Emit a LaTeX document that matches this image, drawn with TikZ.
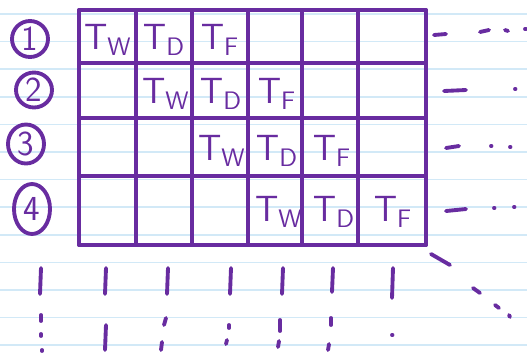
\documentclass[tikz,border=0pt]{standalone}
\usepackage{tikz}
\usetikzlibrary{shapes.geometric,positioning}
\definecolor{pen}{RGB}{104,44,160}
\definecolor{ruling}{RGB}{210,233,247}

\begin{document}
\begin{tikzpicture}[x=0.02cm, y=-0.02cm, line cap=round,
  ink/.style={draw=pen, line width=2.1pt},
  stroke/.style={draw=pen, line width=2.2pt},
  rowno/.style={ellipse, draw=pen, line width=2.2pt, minimum width=0.72cm, minimum height=0.76cm, inner sep=0pt, text=pen, font=\sffamily\fontsize{20}{20}\selectfont},
  stage/.style={text=pen, inner sep=0pt, font=\fontsize{21}{21}\selectfont}]
\path[use as bounding box] (0,0) rectangle (527,356);
% lined paper
\foreach \k in {0,...,12}
  \draw[ruling, line width=0.9pt] (0,{14+27.6*\k}) -- (527,{14+27.6*\k});
% the table
\foreach \x in {79,136,192,248,302,358,426}
  \draw[ink] (\x,10) -- (\x,245);
\foreach \y in {10,63,118,176,245}
  \draw[ink] (79,\y) -- (426,\y);
% instructions and their stages
\foreach \r/\cx/\cy/\h in {1/30/39/0.72cm, 2/34/90/0.7cm, 3/26/144/0.78cm, 4/32/209/1cm}
  \node[rowno, minimum height=\h] (n\r) at (\cx,\cy) {\r};
\foreach \r/\cy/\xa/\xb/\xc in {1/40/108/164/220, 2/94/166/221/277, 3/151/222/277/332, 4/212/279/334/393} {
  \node[stage] (w\r) at (\xa,\cy) {$\mathsf{T}_{\mathsf{W}}$};
  \node[stage] (d\r) at (\xb,\cy) {$\mathsf{T}_{\mathsf{D}}$};
  \node[stage] (f\r) at (\xc,\cy) {$\mathsf{T}_{\mathsf{F}}$};
}
% continues to the right
\draw[stroke] (434,35) -- (446,34);
\draw[stroke] (480,32) -- (489,30);
\draw[stroke] (505,30) -- (508,31);
\draw[stroke] (525,29) -- (526,29);
\draw[stroke] (444,91) -- (466,90);
\draw[stroke] (515,89) -- (515.5,89);
\draw[stroke] (446,148) -- (459,146);
\draw[stroke] (491,146) -- (491.5,146);
\draw[stroke] (510,147) -- (510.5,147);
\draw[stroke] (446,211) -- (466,209);
\draw[stroke] (494,208) -- (494.5,208);
\draw[stroke] (514,207) -- (514.5,207);
% continues downwards
\foreach \x/\t in {41/300, 106/300, 168/300, 231/300, 283/300, 333/298, 393/304}
  \draw[stroke] (\x,268) -- ({\x-1},\t-6);
\draw[stroke] (41,315) -- (41,321);
\draw[stroke] (41,334) -- (41,336);
\draw[stroke] (42,350) -- (42,351);
\draw[stroke] (106,325) -- (105,350);
\draw[stroke] (166,318) -- (164,325);
\draw[stroke] (162,342) -- (161,350);
\draw[stroke] (229,325) -- (229,328);
\draw[stroke] (227,340) -- (226,344);
\draw[stroke] (280,320) -- (280,331);
\draw[stroke] (279,341) -- (278,347);
\draw[stroke] (331,318) -- (331,325);
\draw[stroke] (329,344) -- (328,350);
\draw[stroke] (392,335) -- (392.5,335);
% diagonal
\draw[stroke] (431,254) -- (450,265);
\draw[stroke] (473,288) -- (480,293);
\draw[stroke] (495,305) -- (499,308);
\draw[stroke] (509,315) -- (510,317);
\end{tikzpicture}
\end{document}
